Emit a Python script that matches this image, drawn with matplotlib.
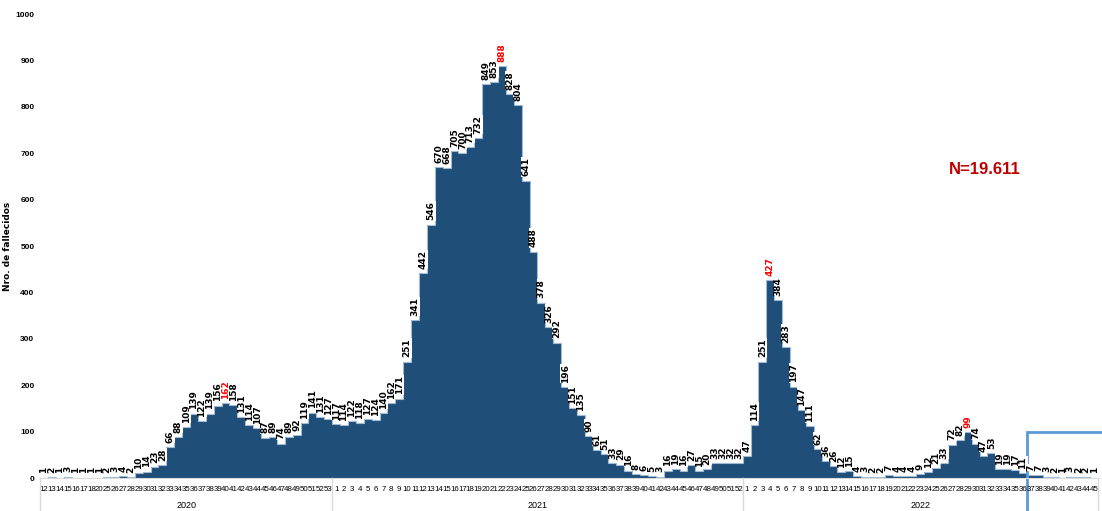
import matplotlib.pyplot as plt
from matplotlib.patches import Rectangle
import numpy as np

# weeks and weekly deaths
weeks_2020 = [12, 13, 14, 15, 16, 17, 18, 20, 25, 26, 27, 28, 29, 30, 31, 32, 33, 34, 35, 36,
              37, 38, 39, 40, 41, 42, 43, 44, 45, 46, 47, 48, 49, 50, 51, 52, 53]
deaths_2020 = [1, 2, 1, 3, 1, 1, 1, 1, 2, 3, 4, 2, 10, 14, 23, 28, 66, 88, 109, 139,
               122, 139, 156, 162, 158, 131, 114, 107, 87, 89, 74, 89, 92, 119, 141, 131, 127]

weeks_2021 = list(range(1, 53))
deaths_2021 = [117, 114, 122, 118, 127, 124, 140, 162, 171, 251, 341, 442, 546, 670, 668, 705,
               700, 713, 732, 849, 853, 888, 828, 804, 641, 488, 378, 326, 292, 196, 151, 135,
               90, 61, 51, 33, 29, 16, 8, 6, 5, 3, 16, 19, 16, 27, 15, 20, 33, 32, 32, 32]

weeks_2022 = list(range(1, 46))
deaths_2022 = [47, 114, 251, 427, 384, 283, 197, 147, 111, 62, 36, 26, 12, 15, 4, 3, 2, 2,
               7, 4, 4, 4, 9, 12, 21, 33, 72, 82, 99, 74, 47, 53, 19, 19, 17, 11, 7, 7,
               3, 2, 1, 3, 2, 2, 1]

years = ["2020", "2021", "2022"]
week_groups = [weeks_2020, weeks_2021, weeks_2022]
death_groups = [deaths_2020, deaths_2021, deaths_2022]
peak_weeks = [("2020", 40), ("2021", 22), ("2022", 4), ("2022", 29)]  # labels in red
total_label = "N=19.611"
ylabel = "Nro. de fallecidos"
box_from = ("2022", 37)  # start of the highlighted (incomplete) weeks

weeks = [w for g in week_groups for w in g]
deaths = [d for g in death_groups for d in g]
keys = [(yr, w) for yr, g in zip(years, week_groups) for w in g]
x = np.arange(len(deaths))

navy = '#1f4e79'

fig = plt.figure(figsize=(11.02, 5.11), dpi=100)
ax = fig.add_axes([40/1102, 33/511, 1058/1102, 464/511])

ax.bar(x, deaths, width=1.0, color=navy, linewidth=0)
ax.stairs(deaths, np.arange(len(deaths) + 1) - 0.5, color='#9fbbd6', linewidth=0.8, baseline=None)

# value labels
for i, d in enumerate(deaths):
    col = 'red' if keys[i] in peak_weeks else 'black'
    ax.text(i, d + 9, str(d), rotation=90, ha='center', va='bottom', fontsize=6.5,
            fontweight='bold', color=col,
            bbox=dict(facecolor='white', edgecolor='none', pad=0.15))

ax.set_xlim(-0.5, len(deaths) - 0.5)
ax.set_ylim(0, 1000)
ax.set_yticks(np.arange(0, 1001, 100))
ax.set_yticklabels([str(v) for v in range(0, 1001, 100)], fontsize=6, fontweight='bold',
                   family='Liberation Sans')
ax.set_xticks(x)
ax.set_xticklabels([str(w) for w in weeks], fontsize=5.7, family='Liberation Sans')
ax.tick_params(axis='both', length=0)
ax.tick_params(axis='x', pad=6)
ax.tick_params(axis='y', pad=4)
for s in ['top', 'right', 'left']:
    ax.spines[s].set_visible(False)
ax.spines['bottom'].set_color('#d9d9d9')
ax.set_ylabel(ylabel, fontsize=6.5, fontweight='bold')
ax.yaxis.set_label_coords(-0.026, 0.5)

# year groups below the week axis
start = 0
bounds = [0]
for yr, g in zip(years, week_groups):
    mid = start + len(g) / 2 - 0.5
    ax.text(mid, -60, yr, ha='center', va='center', fontsize=6.5, family='Liberation Sans',
            clip_on=False)
    start += len(g)
    bounds.append(start)
for b in bounds:
    ax.plot([b - 0.5, b - 0.5], [0, -75], color='#d9d9d9', linewidth=1, clip_on=False)

ax.text(0.893, 0.664, total_label, transform=ax.transAxes, ha='center', va='center',
        fontsize=12, fontweight='bold', color='#c00000', family='Liberation Sans')

# highlight box of the latest weeks
bx = len(deaths_2020) + len(deaths_2021) + weeks_2022.index(box_from[1]) - 0.5
ax.add_patch(Rectangle((bx, -100), 30, 200, fill=False, edgecolor='#5b9bd5',
                       linewidth=2, clip_on=False))

fig.savefig('out.png', dpi=100)
